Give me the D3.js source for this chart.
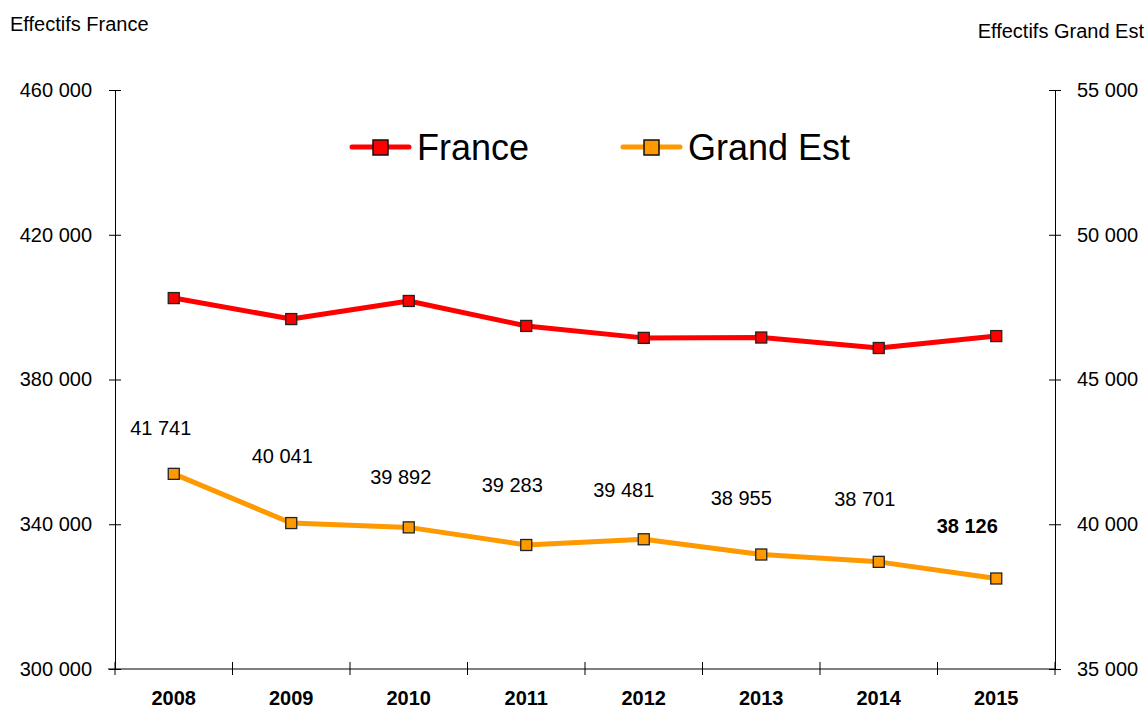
<!DOCTYPE html>
<html>
<head>
<meta charset="utf-8">
<script src="https://cdn.jsdelivr.net/npm/d3@7"></script>
<style>
  body { margin: 0; background: #fff; }
  svg { font-family: "Liberation Sans", Arial, sans-serif; }
</style>
</head>
<body>
<svg width="1147" height="708"></svg>
<script>
// data
const years = ["2008", "2009", "2010", "2011", "2012", "2013", "2014", "2015"];
const france = [402500, 396700, 401700, 394800, 391500, 391600, 388700, 392000];
const grandEst = [41741, 40041, 39892, 39283, 39481, 38955, 38701, 38126];
const leftTicks = [300000, 340000, 380000, 420000, 460000];
const rightTicks = [35000, 40000, 45000, 50000, 55000];

// label placement (px relative to point)
const labelDx = [-13, -9, -8, -14, -20, -20, -14, -29];
const labelDy = [-39, -60, -43, -53, -42, -50, -56, -46];

const svg = d3.select("svg");
const m = { left: 115, right: 1055, top: 90, bottom: 669 };
const fmt = v => d3.format(",")(v).replace(/,/g, " ");

const x = d3.scaleBand().domain(years).range([m.left, m.right]);
const yL = d3.scaleLinear().domain([300000, 460000]).range([m.bottom, m.top]);
const yR = d3.scaleLinear().domain([35000, 55000]).range([m.bottom, m.top]);
const cx = d => x(d) + x.bandwidth() / 2;

// left axis
const gl = svg.append("g").attr("transform", `translate(${m.left},0)`)
  .call(d3.axisLeft(yL).tickValues(leftTicks).tickFormat(fmt).tickSizeInner(6).tickSizeOuter(0).tickPadding(17));
gl.selectAll(".tick line").attr("x2", 6).attr("x1", -6);
// right axis
const gr = svg.append("g").attr("transform", `translate(${m.right},0)`)
  .call(d3.axisRight(yR).tickValues(rightTicks).tickFormat(fmt).tickSizeInner(6).tickSizeOuter(0).tickPadding(16));
gr.selectAll(".tick line").attr("x1", -6).attr("x2", 6);
// bottom axis
const gb = svg.append("g").attr("transform", `translate(0,${m.bottom})`)
  .call(d3.axisBottom(x).tickSize(0).tickPadding(22));
gb.select(".domain").attr("d", `M${m.left - 7},0H${m.right}`);
gb.selectAll(".tick text").attr("font-weight", "bold");
gb.selectAll(".bt").data(years.concat(["end"])).enter().append("line")
  .attr("x1", (d, i) => m.left + i * x.bandwidth()).attr("x2", (d, i) => m.left + i * x.bandwidth())
  .attr("y1", -7).attr("y2", 6).attr("stroke", "#000");

svg.selectAll(".domain, .tick line").attr("stroke", "#000");
svg.selectAll(".tick text").attr("font-size", 20).attr("fill", "#000")
  .attr("font-family", "Liberation Sans, Arial, sans-serif");

// titles
svg.append("text").attr("x", 10).attr("y", 31).attr("font-size", 20).text("Effectifs France");
svg.append("text").attr("x", 1144).attr("y", 38).attr("font-size", 20)
  .attr("text-anchor", "end").text("Effectifs Grand Est");

// lines
const series = [
  { name: "France", vals: france, y: yL, color: "#ff0000", size: 11 },
  { name: "Grand Est", vals: grandEst, y: yR, color: "#ff9900", size: 11 }
];
series.forEach(s => {
  const line = d3.line().x((d, i) => cx(years[i])).y(d => s.y(d));
  svg.append("path").attr("d", line(s.vals)).attr("fill", "none")
    .attr("stroke", s.color).attr("stroke-width", 5).attr("stroke-linejoin", "round");
  svg.selectAll(null).data(s.vals).enter().append("rect")
    .attr("x", (d, i) => cx(years[i]) - s.size / 2)
    .attr("y", d => s.y(d) - s.size / 2)
    .attr("width", s.size).attr("height", s.size)
    .attr("fill", s.color).attr("stroke", "#222").attr("stroke-width", 1.3);
});

// data labels
svg.selectAll(".lbl").data(grandEst).enter().append("text")
  .attr("x", (d, i) => cx(years[i]) + labelDx[i])
  .attr("y", (d, i) => yR(d) + labelDy[i])
  .attr("text-anchor", "middle").attr("font-size", 20)
  .attr("font-weight", (d, i) => i === grandEst.length - 1 ? "bold" : "normal")
  .text(fmt);

// legend
const leg = [{ name: "France", color: "#ff0000", x: 350 }, { name: "Grand Est", color: "#ff9900", x: 621 }];
leg.forEach(l => {
  const g = svg.append("g").attr("transform", `translate(${l.x},147)`);
  g.append("line").attr("x1", 2).attr("x2", 59).attr("stroke", l.color)
    .attr("stroke-width", 5).attr("stroke-linecap", "round");
  g.append("rect").attr("x", 23).attr("y", -7).attr("width", 15).attr("height", 15)
    .attr("fill", l.color).attr("stroke", "#111").attr("stroke-width", 1.5);
  g.append("text").attr("x", 67).attr("y", 13).attr("font-size", 36).text(l.name);
});
</script>
</body>
</html>
